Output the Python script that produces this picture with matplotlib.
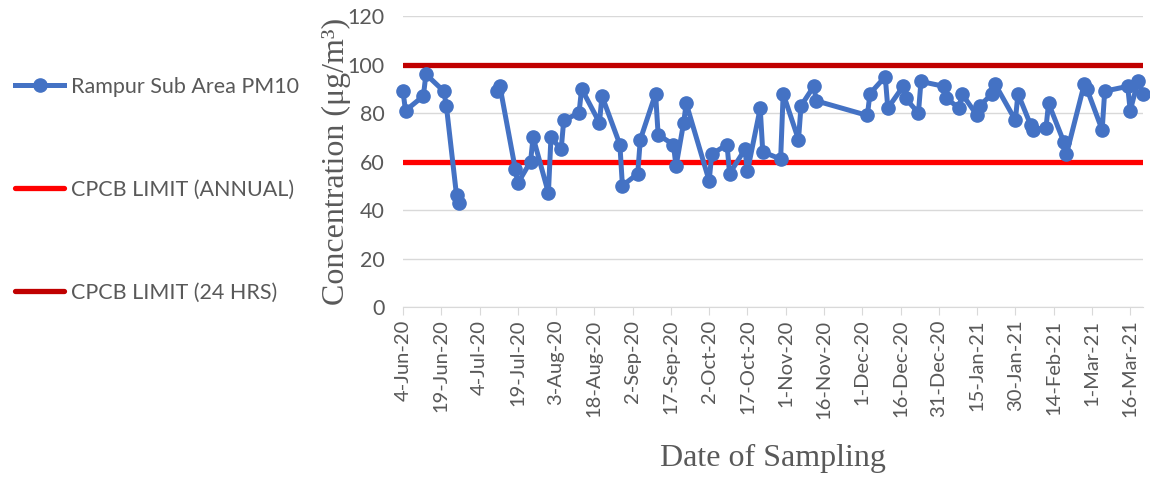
import matplotlib
matplotlib.use('Agg')
import matplotlib.pyplot as plt
import matplotlib.dates as mdates
import numpy as np
import pandas as pd

# sampling dates and PM10 values (NaN = no sampling, line breaks there)
dates = ['4-Jun-20', '5-Jun-20', '12-Jun-20', '13-Jun-20', '20-Jun-20', '21-Jun-20',
         '25-Jun-20', '26-Jun-20', '1-Jul-20',
         '11-Jul-20', '12-Jul-20', '18-Jul-20', '19-Jul-20', '24-Jul-20', '25-Jul-20',
         '31-Jul-20', '1-Aug-20', '5-Aug-20', '6-Aug-20', '12-Aug-20', '13-Aug-20',
         '20-Aug-20', '21-Aug-20', '28-Aug-20', '29-Aug-20', '4-Sep-20', '5-Sep-20',
         '11-Sep-20', '12-Sep-20', '18-Sep-20', '19-Sep-20', '22-Sep-20', '23-Sep-20',
         '2-Oct-20', '3-Oct-20', '9-Oct-20', '10-Oct-20', '16-Oct-20', '17-Oct-20',
         '22-Oct-20', '23-Oct-20', '30-Oct-20', '31-Oct-20', '6-Nov-20', '7-Nov-20',
         '12-Nov-20', '13-Nov-20', '3-Dec-20', '4-Dec-20', '10-Dec-20', '11-Dec-20',
         '17-Dec-20', '18-Dec-20', '23-Dec-20', '24-Dec-20', '2-Jan-21', '3-Jan-21',
         '8-Jan-21', '9-Jan-21', '15-Jan-21', '16-Jan-21', '21-Jan-21', '22-Jan-21',
         '30-Jan-21', '31-Jan-21', '5-Feb-21', '6-Feb-21', '11-Feb-21', '12-Feb-21',
         '18-Feb-21', '19-Feb-21', '26-Feb-21', '27-Feb-21', '5-Mar-21', '6-Mar-21',
         '15-Mar-21', '16-Mar-21', '19-Mar-21', '21-Mar-21']
pm10 = [89, 81, 87, 96, 89, 83,
        46, 43, np.nan,
        89, 91, 57, 51, 60, 70,
        47, 70, 65, 77, 80, 90,
        76, 87, 67, 50, 55, 69,
        88, 71, 67, 58, 76, 84,
        52, 63, 67, 55, 65, 56,
        82, 64, 61, 88, 69, 83,
        91, 85, 79, 88, 95, 82,
        91, 86, 80, 93, 91, 86,
        82, 88, 79, 83, 88, 92,
        77, 88, 75, 73, 74, 84,
        68, 63, 92, 90, 73, 89,
        91, 81, 93, 88]
annual_limit = 60
daily_limit = 100

x = pd.to_datetime(dates, format='%d-%b-%y')
x_start = pd.Timestamp('2020-06-04')
x_end = pd.Timestamp('2021-03-21')

grey = '#595959'
plt.rcParams['font.family'] = ['Lato', 'DejaVu Sans']

fig = plt.figure(figsize=(11.5, 4.78), dpi=100)
ax = fig.add_axes([0.3504, 0.3577, 0.6435, 0.6088])

ax.plot(x, pm10, color='#4472C4', lw=3.6, marker='o', ms=9.5,
        label='Rampur Sub Area PM10', clip_on=False, zorder=3)
ax.plot([x_start, x_end], [annual_limit, annual_limit], color='#FF0000', lw=3.8,
        solid_capstyle='round', label='CPCB LIMIT (ANNUAL)', zorder=2)
ax.plot([x_start, x_end], [daily_limit, daily_limit], color='#C00000', lw=3.8,
        solid_capstyle='round', label='CPCB LIMIT (24 HRS)', zorder=2)

ax.set_xlim(x_start, x_end)
ax.set_ylim(0, 120)
ax.set_yticks(np.arange(0, 121, 20))
ax.set_xticks(pd.date_range(x_start, x_end, freq='15D'))
ax.xaxis.set_major_formatter(mdates.DateFormatter('%-d-%b-%y'))

ax.grid(axis='y', color='#D9D9D9', lw=1)
ax.set_axisbelow(True)
for s in ['top', 'right', 'left']:
    ax.spines[s].set_visible(False)
ax.spines['bottom'].set_color('#D9D9D9')
ax.tick_params(axis='y', length=0, labelsize=15.5, labelcolor=grey, pad=13)
ax.tick_params(axis='x', length=6, color='#D9D9D9', labelsize=14.5, labelcolor=grey,
               labelrotation=90, pad=3)

ax.set_xlabel('Date of Sampling', family='Liberation Serif', fontsize=23, color=grey, labelpad=18)
ax.set_ylabel('Concentration (μg/m³)', family='Liberation Serif', fontsize=23, color=grey, labelpad=-2)

fig.legend(loc='upper left', bbox_to_anchor=(-0.004, 0.88), frameon=False, fontsize=15.5,
           labelcolor=grey, handlelength=2.3, handletextpad=0.3, labelspacing=3.85,
           numpoints=1)

fig.savefig('out.png', dpi=100)
